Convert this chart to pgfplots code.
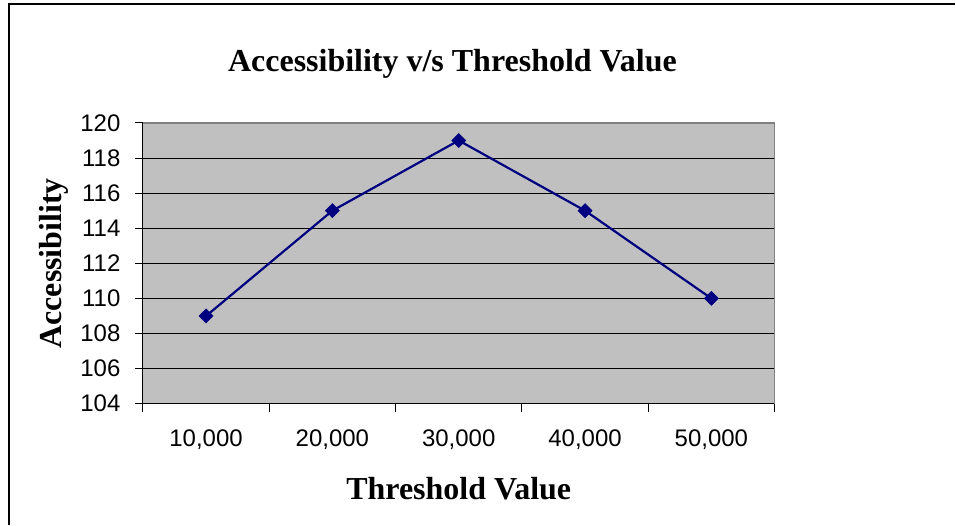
\documentclass[border=0pt]{standalone}
\usepackage{fontspec}
\setmainfont{Liberation Serif}
\newfontfamily\arialfont{Liberation Sans}
\usepackage{pgfplots}
\pgfplotsset{compat=1.18}
\definecolor{plotgray}{HTML}{C0C0C0}
\definecolor{navyline}{HTML}{000080}
\begin{document}
\begin{tikzpicture}
\begin{axis}[
  scale only axis, width=632pt, height=281pt,
  xmin=0.5, xmax=5.5, ymin=104, ymax=120,
  axis background/.style={fill=plotgray},
  axis x line*=bottom, axis y line*=left,
  axis line style={black, line width=1pt},
  xtick={0.5,1.5,...,5.5}, xticklabels={},
  extra x ticks={1,2,3,4,5},
  extra x tick labels={{10,000},{20,000},{30,000},{40,000},{50,000}},
  extra x tick style={major tick length=0pt, grid=none, tick label style={font=\arialfont\fontsize{24}{24}\selectfont, yshift=-23pt}},
  ytick={104,106,...,120},
  ymajorgrids,
  grid style={black, line width=0.9pt},
  tick align=outside, major tick length=8pt,
  tick style={black, line width=0.9pt},
  /pgf/number format/assume math mode=true,
  yticklabel style={font=\arialfont\fontsize{24}{24}\selectfont, xshift=-11pt},
  xticklabel style={font=\arialfont\fontsize{24}{24}\selectfont},
  title={\bfseries Accessibility v/s Threshold Value},
  title style={font=\fontsize{32}{32}\selectfont, at={(axis description cs:0.49,1.19)}, anchor=center},
  xlabel={\bfseries Threshold Value},
  xlabel style={font=\fontsize{32}{32}\selectfont, at={(axis description cs:0.5,-0.3025)}, anchor=center},
  ylabel={\bfseries Accessibility},
  ylabel style={font=\fontsize{32}{32}\selectfont, at={(axis description cs:-0.141,0.5)}, anchor=center},
  clip=false,
]
\addplot[navyline, line width=2.2pt, mark=square*, mark size=5pt, mark options={rotate=45, fill=navyline, draw=navyline, line width=0.5pt}]
  coordinates {(1,109) (2,115) (3,119) (4,115) (5,110)};
\draw[gray, line width=1.5pt] (axis cs:0.5,120) -- (axis cs:5.5,120) -- (axis cs:5.5,104);
\coordinate (bl) at (axis description cs:-0.2263,-0.4306);
\coordinate (tr) at (axis description cs:1.2864,1.4377);
\coordinate (fl) at (axis description cs:-0.2120,-0.4306);
\coordinate (ft) at (axis description cs:1.2864,1.4235);
\end{axis}
\pgfresetboundingbox
\path (bl) rectangle (tr);
\draw[line width=1.2pt] (fl) -- (fl |- ft) -- (ft);
\end{tikzpicture}
\end{document}
